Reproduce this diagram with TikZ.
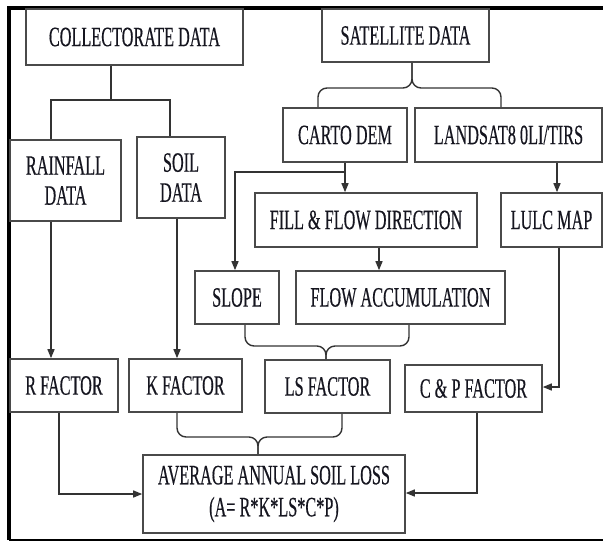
\documentclass[tikz,border=0pt]{standalone}
\usepackage{fontspec}
\setmainfont{Liberation Serif}[FakeStretch=0.58,FakeBold=0.4]
\usetikzlibrary{arrows.meta}
\definecolor{boxc}{HTML}{4A4A4A}
\definecolor{linec}{HTML}{333333}
\definecolor{txtc}{HTML}{15151F}
\begin{document}
\begin{tikzpicture}[x=1pt,y=-1pt,
  box/.style={draw=boxc, line width=1.6pt, inner sep=0pt, align=center, text=txtc,
    font=\fontsize{28}{30}\selectfont},
  conn/.style={draw=linec, line width=1.4pt},
  arr/.style={conn, -{Triangle[length=9pt,width=7pt]}},
  brace/.style={conn, rounded corners=9pt}]
\useasboundingbox (0,0) rectangle (603,542);
% frame
\draw[line width=3.5pt, black] (9,540) -- (9,8) -- (603,8);
\draw[line width=2pt, black] (9,540) -- (603,540);
% nodes
\node[box, minimum width=217pt, minimum height=56pt] (coll) at (134.5,37) {COLLECTORATE DATA};
\node[box, minimum width=167pt, minimum height=53pt] (sat) at (405.5,35.5) {SATELLITE DATA};
\node[box, minimum width=111pt, minimum height=81pt] (rain) at (65.5,180.5) {RAINFALL\\DATA};
\node[box, minimum width=88pt, minimum height=81pt] (soil) at (181,177.5) {SOIL\\DATA};
\node[box, minimum width=124pt, minimum height=54pt] (carto) at (345,135) {CARTO DEM};
\node[box, minimum width=187pt, minimum height=54pt] (land) at (508.5,135) {LANDSAT8 0LI/TIRS};
\node[box, minimum width=222pt, minimum height=54pt] (fill) at (366,220) {FILL \& FLOW DIRECTION};
\node[box, minimum width=101pt, minimum height=54pt] (lulc) at (551.5,220) {LULC MAP};
\node[box, minimum width=84pt, minimum height=53pt] (slope) at (237,297.5) {SLOPE};
\node[box, minimum width=209pt, minimum height=53pt] (flow) at (400.5,297.5) {FLOW ACCUMULATION};
\node[box, minimum width=108pt, minimum height=53pt] (rf) at (64,385.5) {R FACTOR};
\node[box, minimum width=113pt, minimum height=53pt] (kf) at (185.5,385.5) {K FACTOR};
\node[box, minimum width=125pt, minimum height=53pt] (ls) at (327.5,386.5) {LS FACTOR};
\node[box, minimum width=137pt, minimum height=47pt] (cp) at (473.5,388.5) {C \& P FACTOR};
\node[box, minimum width=262pt, minimum height=78pt, font=\fontsize{28}{32}\selectfont] (avg) at (274,494) {AVERAGE ANNUAL SOIL LOSS\\(A= R*K*LS*C*P)};
% collectorate tree
\coordinate (cj) at (111,100);
\draw[conn] (coll.south -| cj) -- (cj);
\draw[conn] (cj) -- (cj -| 51,0) -- (rain.north -| 51,0);
\draw[conn] (cj) -- (cj -| 170,0) -- (soil.north -| 170,0);
% satellite brace
\coordinate (sj) at (412,88);
\draw[brace] (sat.south -| sj) -- (sj) -- (sj -| 318,0) -- (carto.north -| 318,0);
\draw[brace] (sat.south -| sj) -- (sj) -- (sj -| 501,0) -- (land.north -| 501,0);
% carto
\coordinate (dj) at (345,172);
\draw[arr] (carto.south -| dj) -- (fill.north -| dj);
\draw[arr] (dj) -- (dj -| 235,0) -- (slope.north -| 235,0);
\draw[arr] (land.south -| 557,0) -- (lulc.north -| 557,0);
\draw[arr] (fill.south -| 379,0) -- (flow.north -| 379,0);
% data to factors
\draw[arr] (rain.south -| 51,0) -- (rf.north -| 51,0);
\draw[arr] (soil.south -| 177,0) -- (kf.north -| 177,0);
% LS brace
\coordinate (lj) at (326,346);
\draw[brace] (slope.south -| 245,0) -- (lj -| 245,0) -- (lj) -- (ls.north -| lj);
\draw[brace] (flow.south -| 409,0) -- (lj -| 409,0) -- (lj) -- (ls.north -| lj);
% LULC to CP
\coordinate (uj) at (559,387);
\draw[arr] (lulc.south -| uj) -- (uj) -- (cp.east |- uj);
% K/LS brace to avg
\coordinate (kj) at (258,437);
\draw[brace] (kf.south -| 177,0) -- (kj -| 177,0) -- (kj) -- (avg.north -| kj);
\draw[brace] (ls.south -| 342,0) -- (kj -| 342,0) -- (kj) -- (avg.north -| kj);
% R and CP to avg
\coordinate (rj) at (59,494);
\draw[arr] (rf.south -| rj) -- (rj) -- (avg.west |- rj);
\coordinate (pj) at (477,493);
\draw[arr] (cp.south -| pj) -- (pj) -- (avg.east |- pj);
\end{tikzpicture}
\end{document}
